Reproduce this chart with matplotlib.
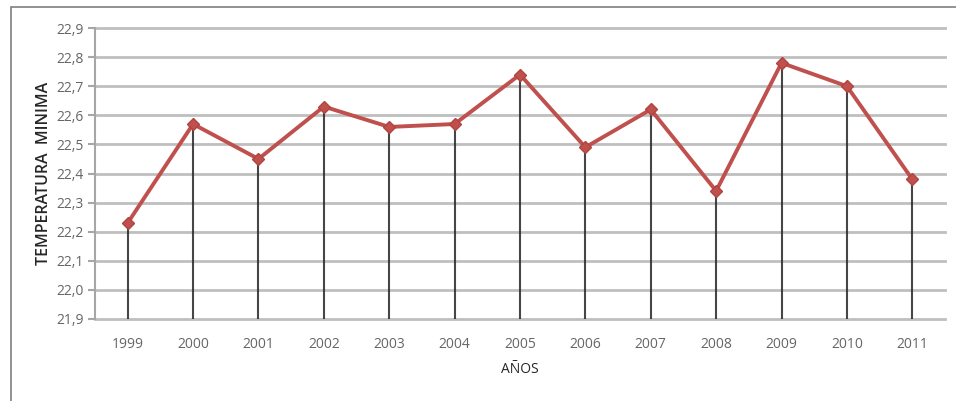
import matplotlib
matplotlib.use("Agg")
import matplotlib.pyplot as plt
from matplotlib.patches import Rectangle

years = ["1999", "2000", "2001", "2002", "2003", "2004", "2005",
         "2006", "2007", "2008", "2009", "2010", "2011"]
temp_min = [22.23, 22.57, 22.45, 22.63, 22.56, 22.57, 22.74,
            22.49, 22.62, 22.34, 22.78, 22.70, 22.38]
y_ticks = [21.9, 22.0, 22.1, 22.2, 22.3, 22.4, 22.5, 22.6, 22.7, 22.8, 22.9]

plt.rcParams["font.family"] = ["Open Sans", "DejaVu Sans"]

W, H = 956, 401
fig = plt.figure(figsize=(W / 100, H / 100), dpi=100)
fig.patch.set_facecolor("white")

# outer chart frame (runs off the right and bottom edges)
fig.add_artist(Rectangle((11 / W, -0.1), 1.2, 1 - 7 / H + 0.1,
                         transform=fig.transFigure, fill=False,
                         edgecolor="#7f7f7f", linewidth=1.2))

left, right, top, bottom = 95, 945, 28, 319
ax = fig.add_axes([left / W, 1 - bottom / H, (right - left) / W, (bottom - top) / H])

x = list(range(len(years)))
ax.set_xlim(-0.5, len(years) - 0.5)
ax.set_ylim(21.9, 22.9)
ax.set_yticks(y_ticks)
ax.set_yticklabels([f"{v:.1f}".replace(".", ",") for v in y_ticks])
ax.set_xticks(x)
ax.set_xticklabels(years)

for v in y_ticks:
    ax.axhline(v, color="#bfbfbf", linewidth=2, zorder=1, clip_on=False)

ax.vlines(x, 21.9, temp_min, color="#262626", linewidth=1.5, alpha=0.85, zorder=2)
ax.plot(x, temp_min, color="#c0504d", linewidth=2.8, marker="D",
        markersize=6.5, markerfacecolor="#c0504d", markeredgecolor="#b04540",
        zorder=3, clip_on=False)

for s in ["top", "right", "bottom"]:
    ax.spines[s].set_visible(False)
ax.spines["left"].set_color("#a6a6a6")
ax.spines["left"].set_linewidth(1.5)

ax.tick_params(axis="y", length=5, width=1.5, color="#a6a6a6",
               labelsize=10, labelcolor="#666666", pad=3)
ax.tick_params(axis="x", length=0, labelsize=10, labelcolor="#666666", pad=13)

ax.set_ylabel("TEMPERATURA  MINIMA", fontsize=11.5, fontweight="semibold",
              color="#262626", labelpad=3)
ax.set_xlabel("AÑOS", fontsize=10, color="#262626", labelpad=7)

fig.savefig("out.png", dpi=100, facecolor="white")
